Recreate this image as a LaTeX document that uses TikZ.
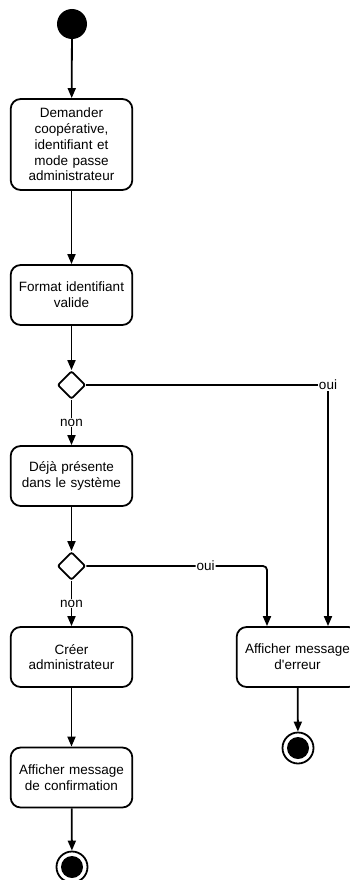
\documentclass[tikz,border=0pt]{standalone}
\usepackage{fontspec}
\setmainfont{Liberation Sans}
\usetikzlibrary{arrows.meta,shapes.geometric}

\tikzset{
  activite/.style={draw, rounded corners=10pt, line width=1.8pt, minimum width=121pt, minimum height=60pt, text width=115pt, align=center, font=\fontsize{13.5}{15.7}\selectfont},
  decision/.style={draw, diamond, rounded corners=2pt, line width=1.8pt, minimum width=28pt, minimum height=28pt, inner sep=0pt},
  debut/.style={circle, fill=black, minimum size=30pt, inner sep=0pt},
  fin/.style={circle, draw, line width=1.8pt, minimum size=31pt, inner sep=0pt, path picture={\fill (path picture bounding box.center) circle (11pt);}},
  fleche/.style={line width=1.8pt, -{Triangle[length=10pt,width=8pt]}},
  garde/.style={fill=white, inner sep=1pt, font=\fontsize{13.5}{15}\selectfont}
}

\begin{document}
\begin{tikzpicture}[x=1pt,y=-1pt]
    \useasboundingbox (0,0) rectangle (349,880);
    % colonne de gauche
    \node[debut] (debut) at (72,24) {};
    \node[activite, minimum height=91pt] (demander) at (71.5,144.5) {Demander\\coopérative,\\identifiant et\\mode passe\\administrateur};
    \node[activite] (format) at (71.5,295) {Format identifiant\\valide};
    \node[decision] (d1) at (71.5,385) {};
    \node[activite] (present) at (71.5,476) {Déjà présente\\dans le système};
    \node[decision] (d2) at (71.5,566) {};
    \node[activite] (creer) at (71.5,657) {Créer\\administrateur};
    \node[activite] (confirm) at (71.5,777.5) {Afficher message\\de confirmation};
    \node[fin] (fin1) at (72,867) {};
    % colonne de droite
    \node[activite] (erreur) at (297.5,657) {Afficher message\\d\textquotesingle erreur};
    \node[fin] (fin2) at (298,748) {};

    \draw[fleche] (debut) -- (demander);
    \draw[fleche] (demander) -- (format);
    \draw[fleche] (format) -- (d1);
    \draw[fleche] (d1) -- node[garde]{non} (present);
    \draw[fleche] (present) -- (d2);
    \draw[fleche] (d2) -- node[garde]{non} (creer);
    \draw[fleche] (creer) -- (confirm);
    \draw[fleche] (confirm) -- (fin1);
    \draw[fleche] (erreur) -- (fin2);
    \draw[fleche] (d1.east) -| node[garde]{oui} ([xshift=30.5pt]erreur.north);
    \draw[fleche, rounded corners=4pt] (d2.east) -| node[garde, pos=0.33]{oui} ([xshift=-30.5pt]erreur.north);
\end{tikzpicture}
\end{document}
